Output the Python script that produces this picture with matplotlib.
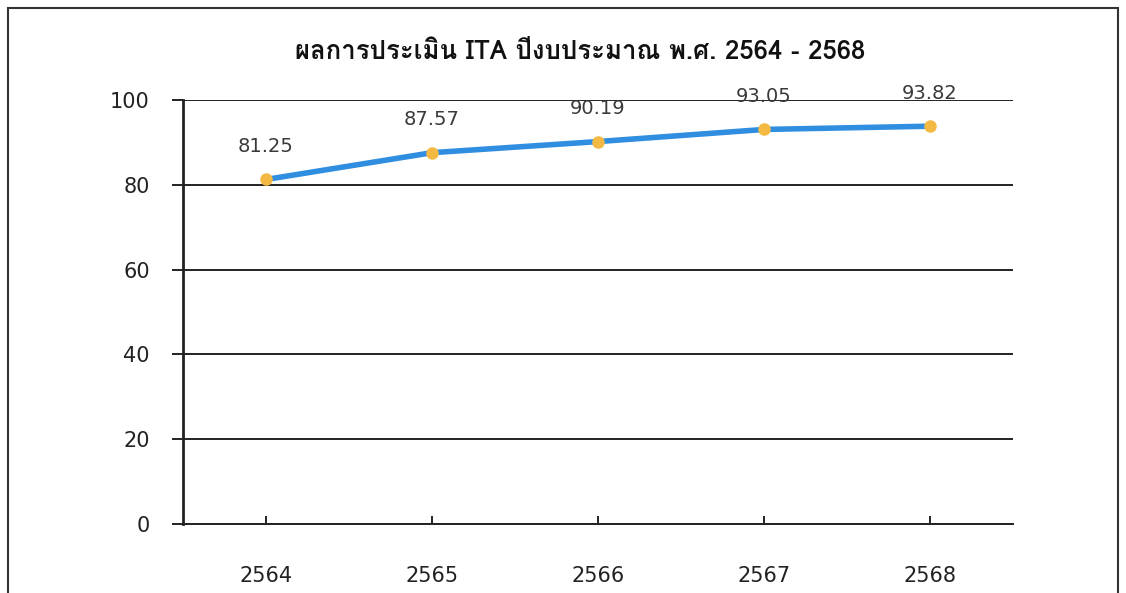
#!/usr/bin/env python3
"""
ITA assessment scores, fiscal years 2564 - 2568
"""

import matplotlib
matplotlib.use("Agg")
import matplotlib.pyplot as plt
from matplotlib import font_manager
from matplotlib.patches import Rectangle

years = ["2564", "2565", "2566", "2567", "2568"]
scores = [81.25, 87.57, 90.19, 93.05, 93.82]
y_ticks = [0, 20, 40, 60, 80, 100]
title = "ผลการประเมิน ITA ปีงบประมาณ พ.ศ. 2564 - 2568"


def find_thai_font():
    # look for an installed font that has Thai glyphs
    from matplotlib.ft2font import FT2Font
    for f in font_manager.fontManager.ttflist:
        try:
            cmap = FT2Font(f.fname).get_charmap()
        except Exception:
            continue
        if ord("ผ") in cmap and ord("ป") in cmap:
            return f.name
    return None


thai = find_thai_font()
families = [thai, "DejaVu Sans"] if thai else ["DejaVu Sans"]

fig = plt.figure(figsize=(11.26, 5.93), dpi=100)
ax = fig.add_axes([0.1625, 0.1164, 0.7372, 0.715])

x = list(range(len(years)))
ax.plot(x, scores, color="#2f8ee0", linewidth=4, solid_capstyle="round", zorder=3)
ax.plot(x, scores, "o", color="#f4b942", markersize=8, zorder=4)

for xi, v in zip(x, scores):
    ax.annotate(f"{v:.2f}", (xi, v), xytext=(0, 17), textcoords="offset points",
                ha="center", va="bottom", fontsize=14, color="#3a3a3a")

ax.set_xlim(-0.5, len(years) - 0.5)
ax.set_ylim(0, 100)
ax.set_yticks(y_ticks)
ax.set_xticks(x)
ax.set_xticklabels(years)

ax.grid(axis="y", color="#222222", linewidth=1.4)
ax.set_axisbelow(True)
for s in ["top", "right"]:
    ax.spines[s].set_visible(False)
ax.spines["left"].set_linewidth(2)
ax.spines["left"].set_color("#222222")
ax.spines["bottom"].set_linewidth(1.4)
ax.spines["bottom"].set_color("#222222")

ax.tick_params(axis="y", length=8, width=1.4, pad=16, labelsize=15, colors="#222222")
ax.tick_params(axis="x", direction="in", length=6, width=1.4, pad=30, labelsize=15,
               colors="#222222")

fig.text(0.515, 1 - 52 / 593, title, ha="center", va="center", fontsize=18.5,
         fontweight="bold", family=families, color="#111111")

# outer frame of the scanned chart
frame = Rectangle((8 / 1126, -0.1), 1110 / 1126, 0.1 + 1 - 8 / 593,
                  transform=fig.transFigure, fill=False, edgecolor="#333333",
                  linewidth=1.5, clip_on=False)
fig.patches.append(frame)

fig.savefig("out.png", dpi=100)
